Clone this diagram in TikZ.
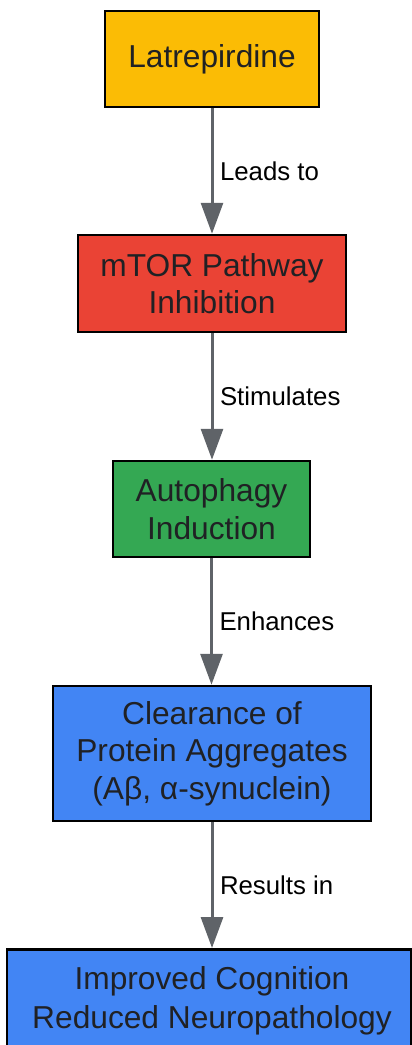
\documentclass[tikz,border=0pt]{standalone}
\usepackage{fontspec}
\setmainfont{Liberation Sans}
\usetikzlibrary{arrows.meta}
\definecolor{cyel}{HTML}{FBBC05}
\definecolor{cred}{HTML}{EA4335}
\definecolor{cgrn}{HTML}{34A853}
\definecolor{cblu}{HTML}{4285F4}
\definecolor{ctxt}{HTML}{202124}
\definecolor{carr}{HTML}{5F6368}
\tikzset{
  box/.style={draw=black, line width=2.5pt, text=ctxt, inner sep=0pt, align=center,
    font=\fontsize{31.7}{37.5}\selectfont},
  conn/.style={draw=carr, line width=3pt, -{Triangle[width=22pt,length=31pt]}},
  lbl/.style={font=\fontsize{25.8}{30}\selectfont, text=black, anchor=west, inner sep=0pt}
}
\begin{document}
\begin{tikzpicture}[x=1pt,y=-1pt]
\useasboundingbox (0,0) rectangle (412,1045);
\begin{scope}
\clip (0,0) rectangle (412,1045);
\node[box, fill=cyel, minimum width=214pt, minimum height=96pt] (a) at (212,59) {Latrepirdine};
\node[box, fill=cred, minimum width=268pt, minimum height=97pt] (b) at (212,283.5) {mTOR Pathway\\Inhibition};
\node[box, fill=cgrn, minimum width=197pt, minimum height=96pt] (c) at (211.5,509) {Autophagy\\Induction};
\node[box, fill=cblu, minimum width=318pt, minimum height=135pt] (d) at (212,753.5) {Clearance of\\Protein Aggregates\\(Aβ, α-synuclein)};
\node[box, fill=cblu, minimum width=404pt, minimum height=140pt, anchor=north] (e) at (209,948) {};
\node[font=\fontsize{31.7}{38.5}\selectfont, text=ctxt, align=center] (et) at (212,1001) {Improved Cognition\\Reduced Neuropathology};
\end{scope}
\draw[conn] (a.south) -- node[lbl, xshift=6.5pt] (l1) {Leads to} (a.south |- b.north);
\draw[conn] (b.south) -- node[lbl, xshift=6.5pt] (l2) {Stimulates} (b.south |- c.north);
\draw[conn] (c.south) -- node[lbl, xshift=6.5pt] (l3) {Enhances} (c.south |- d.north);
\draw[conn] (d.south) -- node[lbl, xshift=6.5pt] (l4) {Results in} (d.south |- e.north);
\end{tikzpicture}
\end{document}
